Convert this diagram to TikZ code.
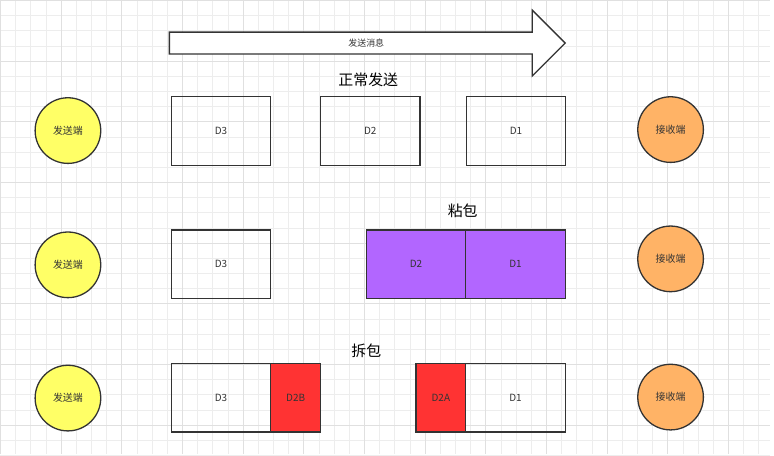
\documentclass[tikz,border=0pt]{standalone}
\usepackage{fontspec}
\newfontfamily\cjk{Noto Sans CJK SC}
\definecolor{yel}{HTML}{FFFF66}
\definecolor{ora}{HTML}{FFB366}
\definecolor{pur}{HTML}{B266FF}
\definecolor{rd}{HTML}{FF3333}
\definecolor{txt}{HTML}{333333}
\begin{document}
\begin{tikzpicture}[x=1pt,y=-1pt,
  pk/.style={draw=txt,line width=1.3pt,minimum width=100pt,minimum height=69pt,font=\cjk\fontsize{10}{12}\selectfont,text=txt,inner sep=0pt},
  half/.style={pk,minimum width=50pt,fill=rd},
  ep/.style={circle,draw=txt,line width=1.3pt,minimum size=66pt,inner sep=0pt,font=\cjk\fontsize{10}{12}\selectfont,text=txt},
  ttl/.style={font=\cjk\fontsize{15}{18}\selectfont,text=black}]
\fill[white] (0,0) rectangle (774,456);
\foreach \i in {0,...,51} {\draw[black!7,line width=0.5pt] (\i*15.25,0)--(\i*15.25,456);}
\foreach \i in {0,...,30} {\draw[black!7,line width=0.5pt] (0,\i*15.25)--(774,\i*15.25);}
\foreach \i in {0,...,12} {\draw[black!12,line width=0.6pt] (\i*61,0)--(\i*61,456);}
\foreach \i in {0,...,7} {\draw[black!12,line width=0.6pt] (0,\i*61)--(774,\i*61);}
\useasboundingbox (0,0) rectangle (774,456);
% arrow
\draw[txt,line width=1.3pt,fill=white] (170,32)--(535,32)--(535,10)--(568,43)--(535,76)--(535,54)--(170,54)--cycle;
\node[font=\cjk\fontsize{9}{11}\selectfont,text=txt] (arr) at (368,43) {发送消息};
% row 1
\node[ep,fill=yel] (s1) at (68,131) {发送端};
\node[ep,fill=ora] (r1) at (674,130) {接收端};
\node[pk] (a3) at (222,131.5) {D3};
\node[pk] (a2) at (372,131.5) {D2};
\node[pk] (a1) at (518.5,131.5) {D1};
\node[ttl] (t1) at (370,80) {正常发送};
% row 2
\node[ep,fill=yel] (s2) at (68,266) {发送端};
\node[ep,fill=ora] (r2) at (674,260) {接收端};
\node[pk] (b3) at (222,265.5) {D3};
\node[pk,fill=pur] (b2) at (418,265.5) {D2};
\node[pk,fill=pur] (b1) at (518,265.5) {D1};
\node[ttl] (t2) at (465,212) {粘包};
% row 3
\node[ep,fill=yel] (s3) at (68,400) {发送端};
\node[ep,fill=ora] (r3) at (674,399) {接收端};
\node[pk] (c3) at (222,399.5) {D3};
\node[half] (c2b) at (297,399.5) {D2B};
\node[half] (c2a) at (443,399.5) {D2A};
\node[pk] (c1) at (518,399.5) {D1};
\node[ttl] (t3) at (368,352) {拆包};
\end{tikzpicture}
\end{document}
